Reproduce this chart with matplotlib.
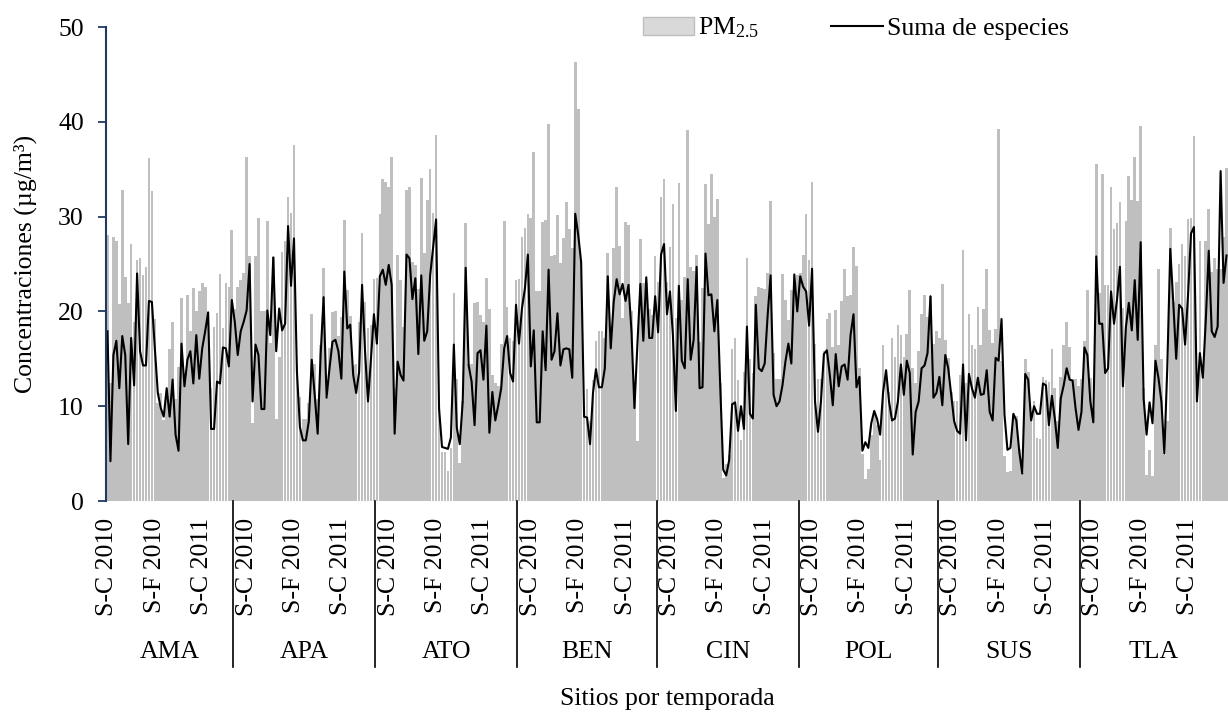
import numpy as np
import matplotlib.pyplot as plt
from matplotlib.patches import Patch
from matplotlib.lines import Line2D

plt.rcParams['font.family'] = ['Liberation Serif', 'DejaVu Serif']
plt.rcParams['mathtext.fontset'] = 'custom'
plt.rcParams['mathtext.rm'] = 'Liberation Serif'
plt.rcParams['mathtext.it'] = 'Liberation Serif:italic'

# ---- datos (ug/m3) ----
sitios = ['AMA', 'APA', 'ATO', 'BEN', 'CIN', 'POL', 'SUS', 'TLA']
temporadas = ['S-C 2010', 'S-F 2010', 'S-C 2011']

pm_ama = [28.1, 12.4, 27.9, 27.4, 20.8, 32.8, 23.6, 20.9, 27.1, 18.9, 25.4, 25.6, 23.8, 24.7, 36.2,
          32.7, 19.2, 10.3, 11.4, 8.5, 10.8, 16.0, 18.9, 10.8, 14.1, 21.4, 12.9, 21.7, 17.9, 22.5,
          20.0, 22.1, 23.0, 22.6, 19.8, 11.9, 18.4, 19.8, 23.9, 18.2, 23.0, 22.6, 28.6]
suma_ama = [17.9, 4.2, 15.4, 16.9, 11.9, 17.4, 15.4, 6.0, 17.2, 12.2, 24.0, 15.8, 14.3, 14.3, 21.1,
            21.0, 16.1, 11.4, 9.8, 8.9, 11.9, 8.9, 12.8, 7.0, 5.3, 16.6, 12.1, 14.9, 15.8, 12.4,
            17.5, 12.9, 16.1, 17.9, 19.9, 7.6, 7.6, 12.6, 12.4, 16.2, 16.1, 14.2, 21.2]

pm_apa = [20.3, 22.6, 23.3, 24.0, 36.3, 25.8, 8.2, 25.8, 29.8, 20.0, 20.0, 29.5, 16.7, 25.7, 8.7,
          15.2, 26.3, 27.4, 32.1, 30.4, 37.6, 14.5, 11.0, 8.7, 8.7, 10.3, 19.7, 14.4, 10.8, 16.5,
          24.6, 11.0, 16.1, 19.9, 20.0, 17.4, 19.4, 29.6, 22.3, 19.5, 14.3, 14.4, 18.9, 28.3, 21.0,
          18.2, 18.6, 23.4]
suma_apa = [18.9, 15.4, 17.9, 18.9, 20.1, 25.0, 10.5, 16.5, 15.4, 9.7, 9.7, 20.1, 17.5, 25.7, 15.8,
            20.3, 18.0, 18.7, 29.0, 22.7, 27.7, 13.6, 7.8, 6.4, 6.4, 8.4, 14.9, 11.2, 7.1, 15.4,
            21.5, 10.9, 14.0, 16.8, 17.0, 15.8, 12.9, 24.2, 18.2, 18.6, 13.3, 11.4, 13.6, 22.8, 15.8,
            10.5, 15.0, 19.7]

pm_ato = [23.5, 30.3, 34.0, 33.6, 33.1, 36.3, 11.9, 25.9, 23.3, 18.4, 32.8, 33.1, 25.2, 24.9, 22.4,
          34.1, 26.2, 31.8, 35.0, 30.4, 38.6, 10.1, 5.2, 5.2, 3.2, 5.6, 21.9, 12.9, 4.0, 10.5,
          29.3, 14.5, 14.5, 20.9, 21.0, 19.6, 18.9, 23.5, 20.3, 13.3, 12.4, 12.1, 16.6, 29.5, 20.5,
          17.2, 16.9, 23.3]
suma_ato = [16.6, 23.7, 24.4, 22.8, 24.9, 22.8, 7.1, 14.7, 13.3, 12.7, 26.0, 25.6, 21.3, 23.5, 15.5,
            23.8, 16.9, 17.9, 23.8, 26.7, 29.7, 9.8, 5.7, 5.6, 5.5, 6.7, 16.5, 7.7, 6.0, 10.5,
            24.6, 14.3, 12.6, 8.0, 15.6, 15.9, 12.8, 18.5, 7.2, 11.5, 8.5, 10.1, 11.9, 16.1, 17.4,
            13.5, 12.6, 20.7]

pm_ben = [23.4, 27.9, 28.8, 30.3, 29.9, 36.8, 22.1, 22.1, 29.4, 29.6, 39.8, 25.8, 26.0, 30.2, 25.1,
          27.7, 31.5, 28.7, 26.7, 46.3, 41.4, 25.3, 10.0, 11.8, 8.4, 12.8, 16.9, 17.9, 17.9, 17.2,
          26.2, 17.5, 26.7, 33.1, 26.9, 19.3, 29.4, 29.1, 20.0, 11.0, 6.3, 27.6, 23.0, 23.0, 20.3,
          19.6, 25.8]
suma_ben = [16.6, 20.3, 22.4, 26.0, 14.2, 18.0, 8.3, 8.3, 17.9, 13.8, 24.4, 14.9, 15.8, 19.8, 14.3,
            16.0, 16.1, 16.0, 13.0, 30.3, 28.1, 25.2, 8.9, 8.8, 6.0, 11.4, 13.9, 12.0, 12.0, 14.0,
            23.7, 16.1, 21.0, 23.4, 21.8, 22.9, 21.1, 22.8, 17.9, 9.8, 16.5, 22.9, 16.9, 23.6, 17.2,
            17.2, 21.6]

pm_cin = [23.1, 32.1, 34.0, 23.1, 26.8, 31.3, 19.3, 33.5, 21.2, 23.6, 39.1, 24.7, 24.3, 25.9, 16.8,
          22.5, 33.4, 29.2, 34.5, 30.0, 31.9, 12.5, 2.4, 3.9, 4.9, 16.0, 17.2, 12.8, 6.4, 13.6,
          25.6, 15.0, 13.5, 21.6, 22.6, 22.5, 22.4, 24.0, 31.6, 15.6, 12.9, 12.9, 23.9, 21.2, 19.1,
          22.3, 22.8, 23.8]
suma_cin = [17.8, 26.0, 27.1, 19.7, 22.1, 17.5, 9.5, 22.7, 14.8, 14.0, 23.4, 14.9, 17.0, 24.7, 11.9,
            12.0, 26.1, 21.7, 21.8, 17.9, 21.2, 11.9, 3.3, 2.7, 4.3, 10.2, 10.4, 7.4, 10.0, 7.6,
            18.4, 9.2, 8.7, 20.7, 14.0, 13.7, 14.5, 19.6, 23.8, 11.2, 10.0, 10.5, 12.2, 14.7, 16.6,
            14.5, 23.9, 20.0]

pm_pol = [24.0, 25.9, 30.3, 25.4, 33.6, 16.6, 12.9, 12.9, 15.8, 19.2, 19.8, 16.2, 20.2, 16.5, 21.1,
          24.5, 21.6, 21.7, 26.8, 24.8, 14.0, 5.0, 2.3, 3.4, 7.0, 9.1, 8.0, 4.3, 16.5, 13.8,
          11.5, 17.2, 15.2, 18.6, 17.5, 15.2, 17.6, 22.3, 14.0, 12.4, 15.8, 19.7, 21.7, 19.4, 21.6,
          16.6, 17.9]
suma_pol = [23.7, 22.6, 22.1, 18.5, 24.5, 10.5, 7.3, 10.5, 15.5, 15.9, 13.3, 10.1, 15.5, 12.1, 14.2,
            14.4, 12.8, 17.5, 19.7, 12.0, 13.1, 5.3, 6.2, 5.6, 8.2, 9.5, 8.6, 7.0, 11.5, 13.8,
            10.5, 8.5, 8.7, 10.5, 14.4, 11.2, 14.8, 13.5, 4.9, 9.4, 10.5, 14.0, 14.3, 15.6, 21.6,
            10.9, 11.4]

pm_sus = [17.2, 22.9, 17.0, 15.1, 11.5, 10.5, 10.5, 13.3, 26.5, 12.4, 19.7, 16.5, 16.0, 20.5, 16.5,
          20.3, 24.5, 18.0, 16.7, 18.1, 39.2, 14.8, 4.7, 3.1, 3.2, 8.7, 9.0, 5.5, 3.0, 15.0,
          13.6, 9.4, 10.5, 6.6, 6.5, 13.1, 12.8, 12.6, 16.0, 11.9, 8.4, 13.1, 16.5, 18.9, 16.2,
          12.9, 12.9, 12.1]
suma_sus = [13.1, 10.1, 15.4, 14.0, 11.2, 8.4, 7.4, 7.1, 14.4, 6.4, 13.4, 11.9, 10.9, 13.0, 11.2,
            11.3, 13.8, 9.4, 8.5, 15.1, 14.8, 19.2, 9.1, 5.4, 5.6, 9.2, 8.5, 5.2, 2.9, 13.4,
            12.8, 8.5, 10.0, 9.2, 9.2, 12.4, 12.2, 8.0, 11.1, 8.7, 5.6, 10.8, 12.2, 14.0, 12.8,
            12.7, 9.8, 7.5]

pm_tla = [12.9, 16.9, 22.3, 13.0, 9.5, 35.5, 21.9, 34.5, 22.8, 22.8, 33.1, 28.7, 29.3, 31.5, 20.4,
          29.5, 34.3, 31.8, 36.3, 31.6, 39.6, 11.9, 2.7, 5.4, 2.6, 16.5, 24.5, 15.0, 4.9, 8.4,
          28.8, 21.0, 23.1, 25.0, 27.1, 25.8, 29.7, 29.8, 38.5, 11.9, 27.4, 14.2, 27.4, 30.8, 24.2,
          25.6, 24.5, 24.5, 27.9, 35.1]
suma_tla = [9.4, 16.2, 15.4, 10.5, 8.3, 25.8, 18.7, 18.7, 13.5, 14.0, 22.1, 18.7, 21.2, 24.7, 12.1,
            18.3, 20.9, 18.0, 23.3, 17.0, 27.3, 10.8, 7.0, 10.4, 8.2, 14.8, 13.0, 10.5, 5.0, 14.2,
            26.6, 21.0, 15.0, 20.7, 20.3, 16.5, 21.7, 28.2, 28.9, 10.5, 15.6, 13.0, 19.1, 26.4, 17.9,
            17.3, 18.4, 34.8, 23.0, 25.9]

pm_sitios = [pm_ama, pm_apa, pm_ato, pm_ben, pm_cin, pm_pol, pm_sus, pm_tla]
suma_sitios = [suma_ama, suma_apa, suma_ato, suma_ben, suma_cin, suma_pol, suma_sus, suma_tla]

pm25 = np.concatenate(pm_sitios)
suma = np.concatenate(suma_sitios)
n_sitio = [len(p) for p in pm_sitios]
inicios = np.cumsum([0] + n_sitio[:-1])
x = np.arange(len(pm25))

# ---- figura ----
fig = plt.figure(figsize=(12.28, 7.13), dpi=100)
ax = fig.add_axes([106 / 1228, 212 / 713, 1122 / 1228, 474 / 713])

ax.bar(x, pm25, width=0.9, color='#BFBFBF', linewidth=0)
ax.plot(x, suma, color='black', lw=1.5)

ax.set_xlim(-0.5, len(x) - 0.5)
ax.set_ylim(0, 50)
ax.set_yticks(range(0, 51, 10))
for s in ['top', 'right', 'bottom']:
    ax.spines[s].set_visible(False)
ax.spines['left'].set_color('#1F3864')
ax.spines['left'].set_linewidth(1.5)
ax.tick_params(axis='y', color='#1F3864', length=6, width=1.3, pad=10, labelsize=18.5)

# etiquetas de temporada (cada 16 muestras)
pos, etiquetas = [], []
for k, ini in enumerate(inicios):
    desp = 0 if k == 0 else 4
    for j, t in enumerate(temporadas):
        pos.append(ini + desp + 16 * j)
        etiquetas.append(t)
ax.set_xticks(pos)
ax.set_xticklabels(etiquetas, rotation=90, fontsize=18.5)
ax.tick_params(axis='x', length=0, pad=12)

# separadores y nombres de sitio
trans = ax.get_xaxis_transform()
for ini in inicios[1:]:
    ax.plot([ini - 0.5, ini - 0.5], [0, -0.35], transform=trans, color='black', lw=1.2, clip_on=False)
for k, s in enumerate(sitios):
    centro = inicios[k] + n_sitio[k] / 2 - 0.5
    ax.text(centro, -0.318, s, transform=trans, ha='center', va='center', fontsize=18.5)

fig.text(25 / 1228, 1 - 264 / 713, 'Concentraciones (µg/m³)', rotation=90,
         ha='center', va='center', fontsize=18.5)
fig.text(667 / 1228, 1 - 699 / 713, 'Sitios por temporada', ha='center', va='center', fontsize=18.5)

handles = [Patch(facecolor='#D9D9D9', edgecolor='#BFBFBF'), Line2D([], [], color='black', lw=1.5)]
fig.legend(handles, ['PM$_{2.5}$', 'Suma de especies'], loc='center left',
           bbox_to_anchor=(643 / 1228, 1 - 28 / 713), ncol=2, frameon=False,
           handlelength=2.0, handletextpad=0.15, columnspacing=2.8,
           borderpad=0, borderaxespad=0, fontsize=18.5)

fig.savefig('out.png', dpi=100)
